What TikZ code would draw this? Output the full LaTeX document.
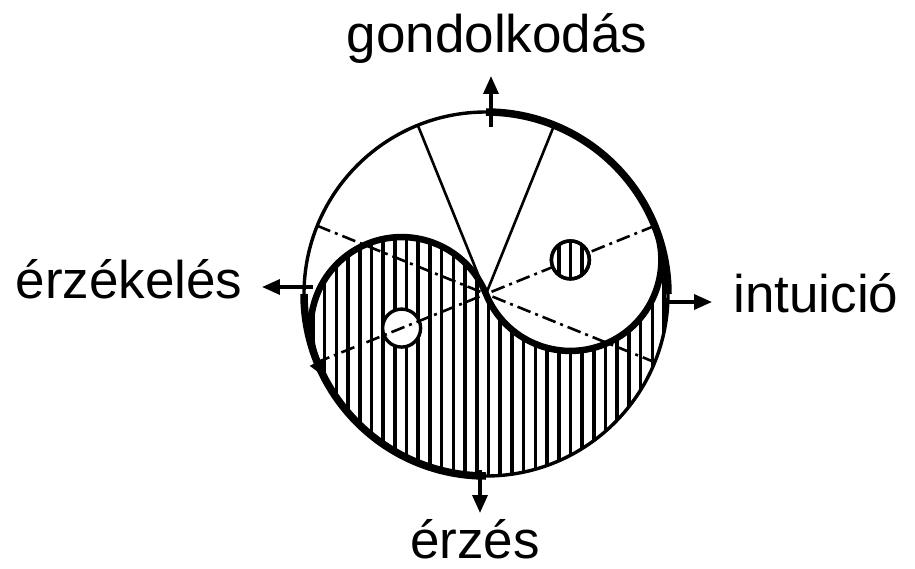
\documentclass[tikz,border=0pt]{standalone}
\usepackage{fontspec}
\setmainfont{Liberation Sans}
\usetikzlibrary{arrows.meta}

\begin{document}
\begin{tikzpicture}[x=1pt, y=1pt,
    fntext/.style={font=\fontsize{53}{60}\selectfont, inner sep=0pt},
    rim/.style={line width=3.4pt},
    rimbold/.style={line width=7.5pt},
    scurve/.style={line width=6.5pt, line join=round, line cap=round},
    spoke/.style={line width=2.6pt},
    axisline/.style={line width=2.6pt, dash pattern=on 14pt off 5pt on 3pt off 5pt},
    hatch/.style={line width=3.6pt},
    eye/.style={draw, line width=3.4pt, fill=white, circle, minimum size=38pt, inner sep=0pt},
    axisarrow/.style={line width=3.4pt, -{Triangle[length=18pt,width=15pt]}}
]
\useasboundingbox (-486,-274) rectangle (429,294);

\coordinate (O) at (0,0);

\begin{scope}
\clip[rotate=22] (-182,0) arc[start angle=180, end angle=0, radius=91]
    arc[start angle=180, end angle=360, radius=91]
    arc[start angle=0, end angle=-180, radius=182] -- cycle;
\foreach \k in {0,...,31} \draw[hatch] (-173+\k*11.7,-190) -- (-173+\k*11.7,190);
\end{scope}

\node[eye] (weye) at (202:91) {};

\draw[axisline] (22:182) -- (O) -- (202:182);
\draw[axisline] (158:182) -- (O) -- (338:182);
\draw[spoke] (O) -- (68:182);
\draw[spoke] (O) -- (112:182);

\node[eye] (heye) at (22:91) {};
\begin{scope}
\clip (heye) circle[radius=18];
\foreach \k in {0,...,31} \draw[hatch] (-173+\k*11.7,-190) -- (-173+\k*11.7,190);
\end{scope}
\draw[line width=3.4pt] (heye) circle[radius=19];

\draw[scurve, rotate=22] (-182,0) arc[start angle=180, end angle=0, radius=91]
    arc[start angle=180, end angle=360, radius=91];

\draw[rim] (O) circle[radius=182];
\draw[rimbold] (0:182) arc[start angle=0, end angle=90, radius=182];
\draw[rimbold] (180:182) arc[start angle=180, end angle=270, radius=182];
\draw[line width=5pt, -{Triangle[length=16pt,width=14pt]}] (194:182) arc[start angle=194, end angle=207, radius=182];

\coordinate (nfoot) at (5,167);
\coordinate (ntip) at (5,218);
\coordinate (sfoot) at (-6,-176);
\coordinate (stip) at (-6,-219);
\coordinate (wfoot) at (-173,7);
\coordinate (wtip) at (-224,7);
\coordinate (efoot) at (182,-8);
\coordinate (etip) at (226,-8);

\draw[axisarrow] (nfoot) -- (ntip);
\draw[axisarrow] (sfoot) -- (stip);
\draw[axisarrow] (wfoot) -- (wtip);
\draw[axisarrow] (efoot) -- (etip);

\node[fntext, anchor=base] (think) at (11,241) {gondolkodás};
\node[fntext, anchor=base] (sense) at (-357,-4) {érzékelés};
\node[fntext, anchor=base] (intu) at (330,-18) {intuició};
\node[fntext, anchor=base] (feel) at (-11,-264) {érzés};
\end{tikzpicture}
\end{document}
